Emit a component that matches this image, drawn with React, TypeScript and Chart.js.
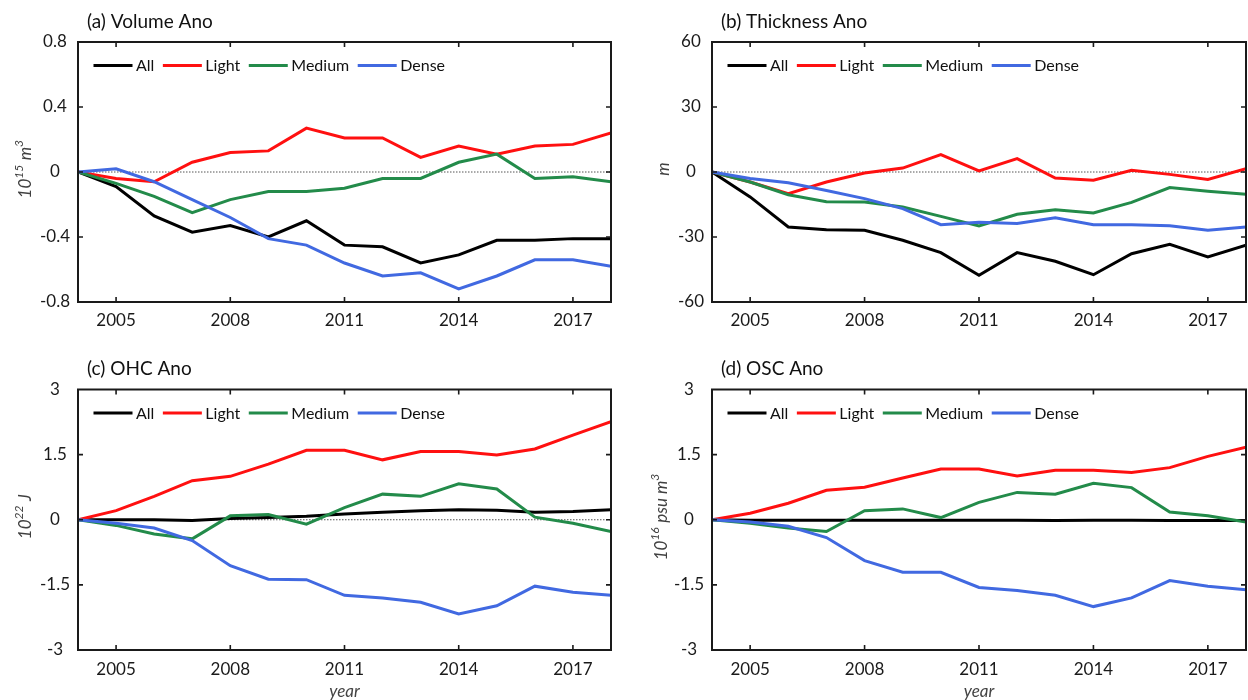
import React, { useEffect, useRef } from "react";
import { Chart, registerables } from "chart.js";

Chart.register(...registerables);

// ---------- data ----------
const years = [2004, 2005, 2006, 2007, 2008, 2009, 2010, 2011, 2012, 2013, 2014, 2015, 2016, 2017, 2018];
const xTickValues = [2005, 2008, 2011, 2014, 2017];
const seriesNames = ["All", "Light", "Medium", "Dense"];
const seriesColors = ["#000000", "#ff1010", "#238b4a", "#4169e1"];

// (a) Volume anomaly, 10^15 m^3
const volumeAll = [0, -0.09, -0.27, -0.37, -0.33, -0.4, -0.3, -0.45, -0.46, -0.56, -0.51, -0.42, -0.42, -0.41, -0.41];
const volumeLight = [0, -0.04, -0.06, 0.06, 0.12, 0.13, 0.27, 0.21, 0.21, 0.09, 0.16, 0.11, 0.16, 0.17, 0.24];
const volumeMedium = [0, -0.07, -0.15, -0.25, -0.17, -0.12, -0.12, -0.1, -0.04, -0.04, 0.06, 0.11, -0.04, -0.03, -0.06];
const volumeDense = [0, 0.02, -0.06, -0.17, -0.28, -0.41, -0.45, -0.56, -0.64, -0.62, -0.72, -0.64, -0.54, -0.54, -0.58];
const volumeTicks = [-0.8, -0.4, 0, 0.4, 0.8];

// (b) Thickness anomaly, m
const thickAll = [0, -11.5, -25.4, -26.6, -26.9, -31.5, -37.2, -47.7, -37.2, -41.2, -47.4, -37.7, -33.4, -39.2, -33.8];
const thickLight = [0, -4.6, -10, -4.6, -0.5, 1.8, 8, 0.5, 6.2, -2.8, -3.8, 0.8, -1.1, -3.4, 1.5];
const thickMedium = [0, -4.6, -10.5, -13.7, -13.8, -16.2, -20.5, -24.9, -19.5, -17.4, -18.9, -14, -7.2, -8.9, -10.3];
const thickDense = [0, -3, -5, -8.5, -12.3, -16.9, -24.3, -23.2, -23.8, -21.1, -24.3, -24.3, -24.8, -26.9, -25.4];
const thickTicks = [-60, -30, 0, 30, 60];

// (c) OHC anomaly, 10^22 J
const ohcAll = [0, 0, 0, -0.02, 0.03, 0.05, 0.08, 0.13, 0.17, 0.21, 0.23, 0.22, 0.17, 0.19, 0.23];
const ohcLight = [0, 0.21, 0.54, 0.9, 1.0, 1.28, 1.6, 1.6, 1.38, 1.57, 1.57, 1.49, 1.63, 1.95, 2.26];
const ohcMedium = [0, -0.13, -0.33, -0.44, 0.09, 0.12, -0.1, 0.28, 0.59, 0.54, 0.83, 0.71, 0.06, -0.08, -0.27];
const ohcDense = [0, -0.08, -0.19, -0.48, -1.06, -1.37, -1.38, -1.74, -1.8, -1.9, -2.17, -1.98, -1.53, -1.67, -1.74];
const ohcTicks = [-3, -1.5, 0, 1.5, 3];

// (d) OSC anomaly, 10^16 psu m^3
const oscAll = [0, -0.01, -0.01, -0.01, -0.01, -0.01, -0.01, -0.01, -0.01, -0.02, -0.01, -0.01, -0.02, -0.02, -0.02];
const oscLight = [0, 0.15, 0.38, 0.68, 0.75, 0.96, 1.17, 1.17, 1.01, 1.14, 1.14, 1.09, 1.2, 1.46, 1.67];
const oscMedium = [0, -0.08, -0.19, -0.27, 0.21, 0.25, 0.05, 0.4, 0.63, 0.59, 0.84, 0.74, 0.18, 0.09, -0.05];
const oscDense = [0, -0.05, -0.15, -0.41, -0.94, -1.21, -1.21, -1.56, -1.63, -1.74, -2.0, -1.8, -1.4, -1.53, -1.61];
const oscTicks = [-3, -1.5, 0, 1.5, 3];

// ---------- layout ----------
const FONT = "Lato, 'Open Sans', sans-serif";

type PanelCfg = {
  id: string;
  title: string;
  yTitle: string;
  yTicks: number[];
  series: number[][];
  left: number;
  top: number;
  w: number;
  h: number;
  area: { l: number; t: number; r: number; b: number };
  yTitleX: number;
  xTitle: boolean;
  titleY: number;
  xPad: number;
};

const panels: PanelCfg[] = [
  {
    id: "a", title: "(a) Volume Ano", yTitle: "10^15 m^3", yTicks: volumeTicks,
    series: [volumeAll, volumeLight, volumeMedium, volumeDense],
    left: 0, top: 0, w: 624, h: 345, area: { l: 78, t: 42, r: 611, b: 302 },
    yTitleX: 26, xTitle: false, titleY: 21.5, xPad: 8,
  },
  {
    id: "b", title: "(b) Thickness Ano", yTitle: "m", yTicks: thickTicks,
    series: [thickAll, thickLight, thickMedium, thickDense],
    left: 624, top: 0, w: 624, h: 345, area: { l: 88, t: 42, r: 622, b: 302 },
    yTitleX: 40, xTitle: false, titleY: 21.5, xPad: 8,
  },
  {
    id: "c", title: "(c) OHC Ano", yTitle: "10^22 J", yTicks: ohcTicks,
    series: [ohcAll, ohcLight, ohcMedium, ohcDense],
    left: 0, top: 345, w: 624, h: 355, area: { l: 78, t: 44.5, r: 611, b: 305 },
    yTitleX: 26, xTitle: true, titleY: 24.3, xPad: 9,
  },
  {
    id: "d", title: "(d) OSC Ano", yTitle: "10^16 psu m^3", yTicks: oscTicks,
    series: [oscAll, oscLight, oscMedium, oscDense],
    left: 624, top: 345, w: 624, h: 355, area: { l: 88, t: 44.5, r: 622, b: 305 },
    yTitleX: 38, xTitle: true, titleY: 24.3, xPad: 9,
  },
];

// split "10^15 m^3" into normal / superscript runs
function parseSup(text: string) {
  const parts: { t: string; sup: boolean }[] = [];
  const re = /\^(\d+)|([^^]+)/g;
  let m: RegExpExecArray | null;
  while ((m = re.exec(text))) {
    if (m[1]) parts.push({ t: m[1], sup: true });
    else parts.push({ t: m[2], sup: false });
  }
  return parts;
}

const decorPlugin = {
  id: "decor",
  beforeDatasetsDraw(chart: any) {
    const { ctx, chartArea: a, scales } = chart;
    const y0 = scales.y.getPixelForValue(0);
    ctx.save();
    ctx.strokeStyle = "#555";
    ctx.lineWidth = 1;
    ctx.setLineDash([1.5, 1.5]);
    ctx.beginPath();
    ctx.moveTo(a.left, y0);
    ctx.lineTo(a.right, y0);
    ctx.stroke();
    ctx.restore();
  },
  afterDatasetsDraw(chart: any, _args: any, opts: any) {
    const { ctx, chartArea: a, scales } = chart;
    const xs = scales.x;
    const ys = scales.y;
    ctx.save();
    // inward tick marks
    ctx.strokeStyle = "#1a1a1a";
    ctx.lineWidth = 1.6;
    ctx.beginPath();
    xs.ticks.forEach((t: any) => {
      if (t.value <= xs.min || t.value >= xs.max) return;
      const px = xs.getPixelForValue(t.value);
      ctx.moveTo(px, a.bottom);
      ctx.lineTo(px, a.bottom - 5);
      ctx.moveTo(px, a.top);
      ctx.lineTo(px, a.top + 5);
    });
    ys.ticks.forEach((t: any) => {
      if (t.value <= ys.min || t.value >= ys.max) return;
      const py = ys.getPixelForValue(t.value);
      ctx.moveTo(a.left, py);
      ctx.lineTo(a.left + 5, py);
      ctx.moveTo(a.right, py);
      ctx.lineTo(a.right - 5, py);
    });
    ctx.stroke();
    // frame
    ctx.lineWidth = 2;
    ctx.strokeRect(a.left, a.top, a.right - a.left, a.bottom - a.top);

    // legend inside the axes
    ctx.font = `16px ${FONT}`;
    ctx.textBaseline = "middle";
    ctx.textAlign = "left";
    let x = a.left + 15.5;
    const yc = a.top + 23.5;
    chart.data.datasets.forEach((ds: any) => {
      ctx.strokeStyle = ds.borderColor;
      ctx.lineWidth = 3;
      ctx.beginPath();
      ctx.moveTo(x, yc);
      ctx.lineTo(x + 39, yc);
      ctx.stroke();
      x += 39 + 3.5;
      ctx.fillStyle = "#111";
      ctx.fillText(ds.label, x, yc + 0.5);
      x += ctx.measureText(ds.label).width + 8.5;
    });

    // panel title
    ctx.font = `19px ${FONT}`;
    ctx.fillStyle = "#111";
    ctx.fillText(opts.title, a.left + 9, opts.titleY);

    // rotated y-axis title with superscripts
    const parts = parseSup(opts.yTitle);
    const mainFont = `italic 17px ${FONT}`;
    const supFont = `italic 12px ${FONT}`;
    let total = 0;
    const widths = parts.map((p) => {
      ctx.font = p.sup ? supFont : mainFont;
      const w = ctx.measureText(p.t).width + (p.sup ? 0.5 : 0);
      total += w;
      return w;
    });
    const cy = (a.top + a.bottom) / 2 - 3;
    ctx.translate(opts.yTitleX, cy);
    ctx.rotate(-Math.PI / 2);
    ctx.fillStyle = "#404040";
    ctx.textBaseline = "middle";
    let px = -total / 2;
    parts.forEach((p, i) => {
      ctx.font = p.sup ? supFont : mainFont;
      ctx.fillText(p.t, px, p.sup ? -7 : 0);
      px += widths[i];
    });
    ctx.restore();
  },
};

function Panel({ cfg }: { cfg: PanelCfg }) {
  const ref = useRef<HTMLCanvasElement>(null);
  useEffect(() => {
    const canvas = ref.current;
    if (!canvas) return;
    const { area } = cfg;
    const yMin = cfg.yTicks[0];
    const yMax = cfg.yTicks[cfg.yTicks.length - 1];
    const datasets = cfg.series.map((vals, i) => ({
      label: seriesNames[i],
      data: years.map((yr, j) => ({ x: yr, y: vals[j] })),
      borderColor: seriesColors[i],
      backgroundColor: seriesColors[i],
      borderWidth: 3,
      pointRadius: 0,
      tension: 0,
      order: seriesNames.length - i,
    }));
    const chart = new Chart(canvas, {
      type: "line",
      data: { datasets },
      plugins: [decorPlugin],
      options: {
        animation: false,
        responsive: false,
        maintainAspectRatio: false,
        devicePixelRatio: 1,
        layout: { padding: { left: 0, top: area.t, right: cfg.w - area.r, bottom: 0 } },
        plugins: {
          legend: { display: false },
          tooltip: { enabled: false },
          title: { display: false },
          decor: { title: cfg.title, titleY: cfg.titleY, yTitle: cfg.yTitle, yTitleX: cfg.yTitleX },
        } as any,
        scales: {
          x: {
            type: "linear",
            min: years[0],
            max: years[years.length - 1],
            afterBuildTicks: (s: any) => {
              s.ticks = xTickValues.map((v) => ({ value: v }));
            },
            afterFit: (s: any) => {
              s.height = cfg.h - area.b;
            },
            grid: { display: false, drawTicks: false },
            border: { display: false },
            ticks: {
              autoSkip: false,
              maxRotation: 0,
              padding: cfg.xPad,
              color: "#1a1a1a",
              font: { family: FONT, size: 17 },
              callback: (v: any) => String(v),
            },
            title: {
              display: cfg.xTitle,
              text: "year",
              color: "#444",
              font: { family: FONT, size: 17, style: "italic", lineHeight: 1 },
              padding: { top: 0, bottom: 0 },
            },
          },
          y: {
            type: "linear",
            min: yMin,
            max: yMax,
            afterBuildTicks: (s: any) => {
              s.ticks = cfg.yTicks.map((v) => ({ value: v }));
            },
            afterFit: (s: any) => {
              s.width = area.l;
            },
            grid: { display: false, drawTicks: false },
            border: { display: false },
            ticks: {
              padding: 8,
              crossAlign: "center",
              color: "#1a1a1a",
              font: { family: FONT, size: 17 },
              callback: (v: any) => String(v),
            },
            title: { display: false },
          },
        },
      } as any,
    });
    return () => chart.destroy();
  }, [cfg]);
  return (
    <canvas
      ref={ref}
      width={cfg.w}
      height={cfg.h}
      style={{ position: "absolute", left: cfg.left, top: cfg.top, width: cfg.w, height: cfg.h }}
    />
  );
}

export default function App() {
  return (
    <div style={{ position: "absolute", left: 0, top: 0, width: 1248, height: 700, background: "#ffffff", overflow: "hidden" }}>
      {panels.map((p) => (
        <Panel key={p.id} cfg={p} />
      ))}
    </div>
  );
}
